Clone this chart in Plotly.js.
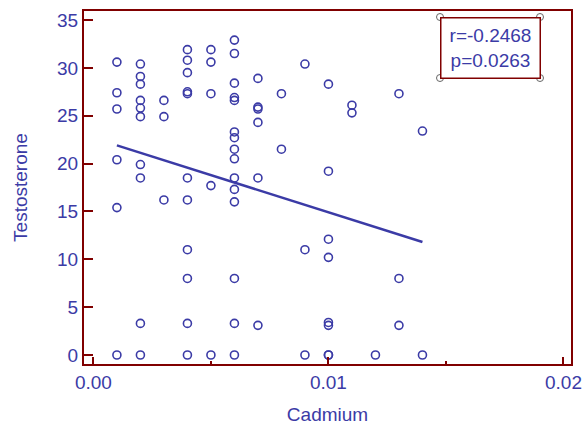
<!DOCTYPE html>
<html>
<head>
<meta charset="utf-8">
<script src="https://cdn.plot.ly/plotly-3.0.1.min.js"></script>
<style>html,body{margin:0;padding:0;background:#fff;}#chart{width:582px;height:430px;}</style>
</head>
<body>
<div id="chart"></div>
<script>
// Data
var cadmium = [
  0.001,0.001,0.001,0.001,0.001,0.001,
  0.002,0.002,0.002,0.002,0.002,0.002,0.002,0.002,0.002,0.002,
  0.003,0.003,0.003,
  0.004,0.004,0.004,0.004,0.004,0.004,0.004,0.004,0.004,0.004,0.004,
  0.005,0.005,0.005,0.005,0.005,
  0.006,0.006,0.006,0.006,0.006,0.006,0.006,0.006,0.006,0.006,0.006,0.006,0.006,0.006,0.006,
  0.007,0.007,0.007,0.007,0.007,0.007,
  0.008,0.008,
  0.009,0.009,0.009,
  0.010,0.010,0.010,0.010,0.010,0.010,0.010,0.010,
  0.011,0.011,
  0.012,
  0.013,0.013,0.013,
  0.014,0.014
];
var testosterone = [
  30.6,27.4,25.7,20.4,15.4,0,
  30.4,29.1,28.3,26.6,25.8,24.9,19.9,18.5,3.3,0,
  26.6,24.9,16.2,
  31.9,30.8,29.5,27.5,27.3,18.5,16.2,11.0,8.0,3.3,0,
  31.9,30.6,27.3,17.7,0,
  32.9,31.5,28.4,26.9,26.6,23.3,22.7,21.5,20.5,18.5,17.3,16.0,8.0,3.3,0,
  28.9,25.9,25.7,24.3,18.5,3.1,
  27.3,21.5,
  30.4,11.0,0,
  28.3,19.2,12.1,10.2,3.4,3.1,0,0,
  26.1,25.3,
  0,
  27.3,8.0,3.1,
  23.4,0
];
// Regression line endpoints
var fitX = [0.001, 0.014];
var fitY = [21.9, 11.8];

var xTickVals = [0, 0.01, 0.02];
var xTickText = ['0.00', '0.01', '0.02'];
var yTickVals = [0, 5, 10, 15, 20, 25, 30, 35];
var statsText = ['r=-0.2468', 'p=0.0263'];

var blue = '#3b3ba6';
var red = '#800000';
var font = 'Liberation Sans, Arial, sans-serif';
var fs = 19;

var traces = [
  {x: cadmium, y: testosterone, type: 'scatter', mode: 'markers',
   marker: {symbol: 'circle-open', size: 8, color: blue, line: {width: 1.6, color: blue}},
   hoverinfo: 'none'},
  {x: fitX, y: fitY, type: 'scatter', mode: 'lines',
   line: {color: blue, width: 2.5}, hoverinfo: 'none'}
];

var L = 84, R = 571, T = 11, B = 364;
var pw = R - L, ph = B - T;
function px(xp){ return (xp - L) / pw; }
function py(yp){ return (B - yp) / ph; }
var corners = [[440,17],[540,17],[440,78],[540,78]];
var shapes = corners.map(function(c){
  return {type: 'circle', xref: 'paper', yref: 'paper', xsizemode: 'pixel', ysizemode: 'pixel',
    xanchor: px(c[0]), yanchor: py(c[1]), x0: -3.5, x1: 3.5, y0: -3.5, y1: 3.5,
    line: {color: '#666666', width: 1}, fillcolor: '#ffffff', layer: 'above'};
});

var layout = {
  width: 582, height: 430,
  margin: {l: L, r: 582 - R, t: T, b: 430 - B},
  paper_bgcolor: '#ffffff', plot_bgcolor: '#ffffff',
  showlegend: false,
  font: {family: font, color: blue, size: fs},
  xaxis: {
    range: [-0.0004, 0.02032], tickvals: xTickVals, ticktext: xTickText,
    ticks: 'inside', ticklen: 7, tickwidth: 2, tickcolor: red,
    minor: {dtick: 0.005, tick0: 0, ticks: 'inside', ticklen: 3, tickwidth: 1.5, tickcolor: red},
    showline: true, linecolor: red, linewidth: 2, mirror: true,
    showgrid: false, zeroline: false,
    tickfont: {family: font, size: fs, color: blue},
    title: {text: 'Cadmium', font: {family: font, size: fs, color: blue}, standoff: 16}
  },
  yaxis: {
    range: [-0.94, 35.94], tickvals: yTickVals,
    ticks: 'inside', ticklen: 9, tickwidth: 2, tickcolor: red,
    showline: true, linecolor: red, linewidth: 2, mirror: true,
    showgrid: false, zeroline: false,
    tickfont: {family: font, size: fs, color: blue},
    title: {text: 'Testosterone', font: {family: font, size: fs, color: blue}, standoff: 24}
  },
  annotations: [{
    xref: 'paper', yref: 'paper', x: px(490), y: py(47.5), xanchor: 'center', yanchor: 'middle',
    text: statsText.join('<br>'), showarrow: false, align: 'center',
    font: {family: font, size: fs, color: blue},
    bordercolor: red, borderwidth: 1.5, borderpad: 0, width: 98, height: 59, bgcolor: '#ffffff'
  }],
  shapes: shapes
};
Plotly.newPlot('chart', traces, layout, {displayModeBar: false, staticPlot: true});
</script>
</body>
</html>
